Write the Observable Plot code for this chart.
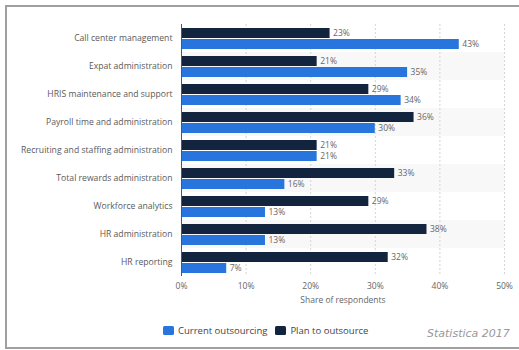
<!DOCTYPE html>
<html>
<head>
<meta charset="utf-8">
<script src="https://cdn.jsdelivr.net/npm/d3@7"></script>
<script src="https://cdn.jsdelivr.net/npm/@observablehq/plot@0.6"></script>
<style>
  html, body { margin: 0; padding: 0; background: #fff; overflow: hidden; width: 519px; height: 350px; }
  #frame { position: absolute; left: 5px; top: 5px; width: 600px; height: 340px; border: 2px solid #a0a0a0; box-sizing: content-box; }
  #chart { position: absolute; left: 0; top: 0; }
  #legend { position: absolute; left: 163px; top: 324px; display: flex; align-items: center; font-family: "Open Sans", sans-serif; font-size: 9.5px; color: #444; }
  #legend .item { display: flex; align-items: center; margin-right: 8px; }
  #legend .sw { width: 11px; height: 9px; border-radius: 1.5px; margin-right: 4px; }
  #credit { position: absolute; left: 427px; top: 327px; font-family: "DejaVu Sans", sans-serif; font-style: italic; font-size: 11px; color: #999; }
</style>
</head>
<body>
<div id="frame"></div>
<div id="chart"></div>
<div id="legend"></div>
<div id="credit">Statistica 2017</div>
<script>
const categories = [
  "Call center management",
  "Expat administration",
  "HRIS maintenance and support",
  "Payroll time and administration",
  "Recruiting and staffing administration",
  "Total rewards administration",
  "Workforce analytics",
  "HR administration",
  "HR reporting"
];
const currentOutsourcing = [43, 35, 34, 30, 21, 16, 13, 13, 7];
const planToOutsource = [23, 21, 29, 36, 21, 33, 29, 38, 32];
const seriesNames = ["Plan to outsource", "Current outsourcing"];
const seriesColors = ["#13253e", "#2876dd"];
const xTicks = [0, 10, 20, 30, 40, 50];
const legendOrder = ["Current outsourcing", "Plan to outsource"];

const rows = [];
categories.forEach((c, i) => {
  rows.push({category: c, series: seriesNames[0], value: planToOutsource[i]});
  rows.push({category: c, series: seriesNames[1], value: currentOutsourcing[i]});
});
const shaded = categories.filter((c, i) => i % 2 === 1);
const xMax = xTicks[xTicks.length - 1];

const chart = Plot.plot({
  width: 519,
  height: 310,
  marginTop: 23,
  marginBottom: 33,
  marginLeft: 181,
  marginRight: 15,
  style: {fontFamily: "Open Sans, sans-serif", fontSize: "8.5px", color: "#666", background: "transparent"},
  x: {domain: [0, xMax], ticks: xTicks, tickFormat: d => d + "%", tickSize: 0, tickPadding: 6,
      label: "Share of respondents", labelAnchor: "center", labelOffset: 26, labelArrow: "none"},
  fy: {domain: categories, padding: 0, label: null, tickSize: 0, tickPadding: 9, axis: "left"},
  y: {domain: seriesNames, axis: null, paddingInner: 0.1, paddingOuter: 0.245},
  color: {domain: seriesNames, range: seriesColors},
  marks: [
    Plot.barX(shaded, {fy: d => d, x1: 0, x2: xMax, fill: "#f8f8f8"}),
    Plot.ruleX(xTicks.slice(1), {stroke: "#d4d4d4", strokeDasharray: "2,2"}),
    Plot.barX(rows, {fy: "category", y: "series", x: "value", fill: "series"}),
    Plot.text(rows, {fy: "category", y: "series", x: "value", text: d => d.value + "%", dx: 3, textAnchor: "start", fill: "#666"}),
    Plot.ruleX([0], {stroke: "#555"})
  ]
});
document.getElementById("chart").appendChild(chart);
chart.querySelectorAll("g[aria-label='fy-axis tick label']").forEach(el => {
  el.setAttribute("font-size", "8.65px");
  el.setAttribute("fill", "#5a5a5a");
});

const legend = document.getElementById("legend");
legendOrder.forEach(name => {
  const item = document.createElement("div");
  item.className = "item";
  const sw = document.createElement("span");
  sw.className = "sw";
  sw.style.background = seriesColors[seriesNames.indexOf(name)];
  const t = document.createElement("span");
  t.textContent = name;
  item.appendChild(sw);
  item.appendChild(t);
  legend.appendChild(item);
});
</script>
</body>
</html>
